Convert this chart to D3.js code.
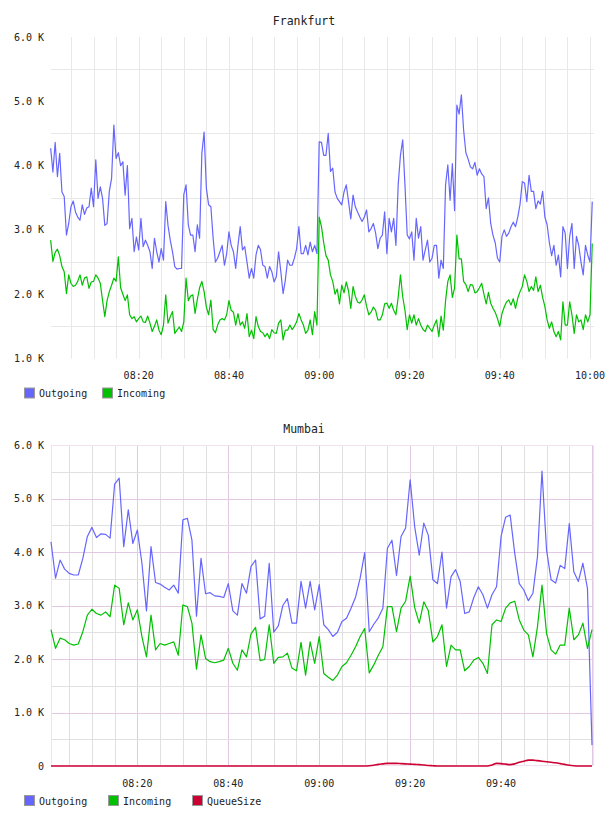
<!DOCTYPE html>
<html lang="en">
<head>
  <meta charset="utf-8">
  <title>Frankfurt / Mumbai traffic</title>
  <script src="https://cdn.jsdelivr.net/npm/d3@7"></script>
  <style>
    body { margin: 0; background: #fff; }
    text { font-family: "DejaVu Sans Mono", monospace; fill: #222; }
  </style>
</head>
<body>
  <script>
    // ---- data (values in K) ----
    // Frankfurt: one sample every 30 s starting 08:00:30
    let frankfurtStart = [8, 0, 30];
    let frankfurtStepSec = 30;
    let frankfurtOutgoing = [
      4.27, 3.90, 4.36, 3.83, 4.19, 3.59, 3.52, 2.92, 3.10, 3.36,
      3.45, 3.28, 3.20, 3.15, 3.39, 3.24, 3.34, 3.36, 3.65, 3.36,
      4.09, 3.49, 3.67, 3.49, 3.07, 3.10, 3.60, 3.80, 4.63, 4.11,
      4.20, 4.00, 4.06, 3.54, 4.00, 3.02, 3.18, 2.66, 2.89, 2.69,
      3.18, 2.74, 2.84, 2.76, 2.66, 2.40, 2.87, 2.66, 2.50, 2.71,
      2.53, 3.44, 3.07, 2.84, 2.66, 2.43, 2.39, 2.40, 2.40, 3.55,
      3.70, 3.08, 2.92, 2.92, 2.66, 3.08, 2.87, 4.19, 4.52, 3.65,
      3.39, 3.36, 2.87, 2.50, 2.56, 2.66, 2.76, 2.45, 2.63, 2.97,
      2.76, 2.66, 2.40, 2.76, 3.05, 2.69, 2.74, 2.50, 2.25, 2.40,
      2.25, 2.61, 2.76, 2.69, 2.45, 2.43, 2.25, 2.43, 2.35, 2.19,
      2.27, 2.66, 2.35, 2.01, 2.22, 2.53, 2.45, 2.45, 2.56, 2.71,
      3.05, 2.63, 2.63, 2.76, 2.61, 2.81, 2.66, 2.76, 2.63, 4.37,
      4.36, 4.16, 4.16, 4.50, 3.91, 3.96, 3.59, 3.49, 3.44, 3.39,
      3.59, 3.70, 3.44, 3.17, 3.54, 3.36, 3.28, 3.20, 3.13, 3.20,
      3.31, 2.97, 3.02, 3.10, 2.95, 2.71, 2.87, 2.92, 3.28, 2.63,
      3.18, 2.97, 3.18, 2.76, 3.70, 4.16, 4.40, 3.70, 2.92, 2.86,
      2.97, 2.53, 3.18, 2.87, 3.05, 2.53, 2.69, 2.84, 2.50, 2.56,
      2.76, 2.76, 2.25, 2.53, 2.40, 3.70, 4.01, 3.46, 4.03, 3.30,
      4.94, 4.80, 5.10, 4.55, 4.20, 4.10, 3.98, 3.95, 4.05, 3.85,
      3.95, 3.87, 3.83, 3.33, 3.50, 3.10, 2.92, 2.80, 2.56, 2.50,
      2.90, 3.00, 2.90, 2.95, 3.05, 3.12, 3.05, 3.20, 3.40, 3.75,
      3.73, 3.44, 3.85, 3.60, 3.60, 3.33, 3.45, 3.40, 3.60, 3.20,
      3.08, 2.80, 2.60, 2.76, 2.45, 2.61, 2.27, 3.05, 2.95, 2.40,
      2.90, 3.10, 2.40, 2.90, 2.76, 2.50, 2.30, 2.76, 2.61, 2.50,
      3.44
    ];
    let frankfurtIncoming = [
      2.84, 2.51, 2.65, 2.70, 2.60, 2.43, 2.35, 2.01, 2.30, 2.17,
      2.12, 2.14, 2.20, 2.30, 2.14, 2.25, 2.27, 2.09, 2.19, 2.20,
      2.30, 2.25, 2.17, 1.90, 1.65, 1.90, 2.04, 2.14, 2.25, 2.20,
      2.58, 2.10, 2.00, 1.90, 1.99, 1.68, 1.62, 1.65, 1.57, 1.62,
      1.66, 1.57, 1.56, 1.66, 1.55, 1.42, 1.50, 1.60, 1.44, 1.37,
      1.52, 1.99, 1.55, 1.65, 1.73, 1.39, 1.44, 1.49, 1.42, 1.57,
      2.25, 1.90, 1.97, 1.99, 1.70, 1.92, 2.10, 2.20, 2.04, 1.80,
      1.68, 1.91, 1.45, 1.40, 1.52, 1.60, 1.62, 1.60, 1.68, 1.90,
      1.75, 1.72, 1.52, 1.70, 1.52, 1.57, 1.47, 1.70, 1.34, 1.44,
      1.31, 1.65, 1.50, 1.42, 1.40, 1.34, 1.39, 1.31, 1.45, 1.40,
      1.39, 1.55, 1.60, 1.29, 1.44, 1.44, 1.52, 1.45, 1.50, 1.57,
      1.70, 1.60, 1.52, 1.39, 1.44, 1.60, 1.37, 1.73, 1.52, 3.20,
      3.05, 2.80, 2.60, 2.53, 2.30, 2.20, 2.00, 2.08, 1.85, 2.14,
      2.02, 2.19, 2.05, 1.78, 2.12, 1.97, 1.88, 1.86, 1.91, 1.99,
      1.81, 1.68, 1.72, 1.80, 1.75, 1.60, 1.60, 1.68, 1.85, 1.86,
      1.78, 1.86, 1.75, 1.68, 1.95, 2.30, 1.96, 1.75, 1.45, 1.68,
      1.55, 1.68, 1.52, 1.62, 1.52, 1.45, 1.42, 1.52, 1.47, 1.42,
      1.52, 1.60, 1.34, 1.66, 1.44, 1.90, 2.20, 2.30, 1.95, 2.10,
      2.92, 2.55, 2.55, 2.20, 2.15, 2.04, 2.15, 2.14, 2.02, 2.04,
      2.10, 2.17, 2.00, 1.85, 2.03, 1.86, 1.78, 1.72, 1.62, 1.50,
      1.70, 1.80, 1.88, 1.91, 1.83, 1.93, 1.78, 1.94, 2.04, 2.12,
      2.30, 2.20, 2.04, 2.12, 2.06, 2.27, 2.04, 2.14, 1.95, 1.81,
      1.60, 1.47, 1.57, 1.42, 1.34, 1.42, 1.29, 1.88, 1.52, 1.52,
      1.88, 1.68, 1.39, 1.68, 1.57, 1.60, 1.45, 1.68, 1.57, 1.68,
      2.79
    ];

    // Mumbai: one sample per minute starting 08:01
    let mumbaiStart = [8, 1, 0];
    let mumbaiStepSec = 60;
    let mumbaiOutgoing = [
      4.19, 3.51, 3.85, 3.68, 3.60, 3.57, 3.57, 3.88, 4.29, 4.46,
      4.27, 4.34, 4.33, 4.26, 5.27, 5.38, 4.10, 4.79, 4.16, 4.41,
      3.79, 2.90, 4.10, 3.43, 3.40, 3.34, 3.29, 3.38, 3.23, 4.60,
      4.63, 4.22, 2.80, 3.88, 3.22, 3.24, 3.18, 3.17, 3.15, 3.41,
      2.90, 2.82, 3.41, 3.23, 3.73, 3.85, 2.75, 2.80, 3.79, 2.50,
      2.62, 3.00, 3.13, 2.67, 2.67, 3.45, 2.95, 3.45, 2.92, 3.39,
      2.64, 2.55, 2.42, 2.50, 2.70, 2.76, 2.95, 3.16, 3.51, 3.99,
      2.51, 2.65, 2.77, 2.95, 4.07, 4.22, 3.56, 4.29, 4.45, 5.35,
      4.47, 3.94, 4.54, 4.31, 3.48, 3.41, 4.00, 2.95, 3.54, 3.67,
      3.45, 2.85, 2.88, 3.15, 3.35, 3.20, 2.95, 3.20, 3.35, 4.29,
      4.65, 4.69, 3.98, 3.41, 3.29, 3.09, 3.23, 3.91, 5.51, 4.04,
      3.48, 3.42, 3.75, 3.69, 4.53, 3.63, 3.45, 3.79, 3.32, 0.39
    ];
    let mumbaiIncoming = [
      2.55, 2.20, 2.39, 2.36, 2.29, 2.26, 2.28, 2.51, 2.82, 2.93,
      2.85, 2.82, 2.88, 2.79, 3.38, 3.32, 2.64, 3.05, 2.73, 2.92,
      2.42, 2.04, 2.82, 2.17, 2.29, 2.26, 2.29, 2.32, 2.07, 3.01,
      2.98, 2.67, 1.81, 2.45, 2.01, 1.95, 1.93, 1.95, 1.98, 2.20,
      1.92, 1.79, 2.17, 2.04, 2.47, 2.59, 1.97, 1.99, 2.64, 1.92,
      2.03, 2.04, 2.11, 1.83, 1.78, 2.31, 1.70, 2.32, 1.92, 2.42,
      1.73, 1.66, 1.60, 1.70, 1.86, 1.93, 2.07, 2.23, 2.42, 2.57,
      1.74, 1.89, 2.07, 2.23, 2.98, 2.98, 2.51, 2.95, 3.08, 3.55,
      2.96, 2.67, 3.07, 2.90, 2.32, 2.42, 2.64, 1.86, 2.26, 2.17,
      2.17, 1.78, 1.86, 1.98, 2.03, 1.92, 1.73, 2.64, 2.73, 2.70,
      2.95, 3.05, 3.08, 2.73, 2.54, 2.45, 2.04, 2.60, 3.38, 2.48,
      2.17, 2.09, 2.26, 2.26, 2.95, 2.36, 2.45, 2.67, 2.20, 2.55
    ];
    let mumbaiQueueSize = [
      0, 0, 0, 0, 0, 0, 0, 0, 0, 0,
      0, 0, 0, 0, 0, 0, 0, 0, 0, 0,
      0, 0, 0, 0, 0, 0, 0, 0, 0, 0,
      0, 0, 0, 0, 0, 0, 0, 0, 0, 0,
      0, 0, 0, 0, 0, 0, 0, 0, 0, 0,
      0, 0, 0, 0, 0, 0, 0, 0, 0, 0,
      0, 0, 0, 0, 0, 0, 0, 0, 0, 0,
      0.005, 0.015, 0.03, 0.04, 0.05, 0.05, 0.05, 0.045, 0.04, 0.035,
      0.03, 0.025, 0.02, 0.01, 0.005, 0, 0, 0, 0, 0,
      0, 0, 0, 0, 0, 0, 0, 0.02, 0.05, 0.045,
      0.035, 0.025, 0.04, 0.07, 0.09, 0.11, 0.11, 0.10, 0.09, 0.08,
      0.07, 0.06, 0.045, 0.03, 0.015, 0.005, 0, 0, 0, 0
    ];

    let xTickLabelsTop = ["08:20", "08:40", "09:00", "09:20", "09:40", "10:00"];
    let xTickLabelsBottom = ["08:20", "08:40", "09:00", "09:20", "09:40"];
    let colors = { Outgoing: "#6666ff", Incoming: "#00c000", QueueSize: "#cc0033" };

    let width = 608, height = 816;
    let day = new Date(2020, 0, 1);
    let at = (h, m, s) => new Date(2020, 0, 1, h, m, s || 0);
    let parseHM = d3.timeParse("%H:%M");
    let fmtHM = d3.timeFormat("%H:%M");
    let hm = str => { let p = parseHM(str); return at(p.getHours(), p.getMinutes()); };

    function series(start, stepSec, values) {
      let t0 = at(start[0], start[1], start[2]);
      return values.map((v, i) => ({ t: new Date(t0.getTime() + i * stepSec * 1000), v: v }));
    }

    let svg = d3.select("body").append("svg")
      .attr("width", width)
      .attr("height", height);
    svg.append("rect").attr("width", width).attr("height", height).attr("fill", "#fff");

    function kFormat(v) { return v === 0 ? "0" : d3.format(".1f")(v) + " K"; }

    function drawPanel(opt) {
      let g = svg.append("g");
      let x = d3.scaleTime().domain([at(8, 0), at(10, 0)]).range(opt.xRange);
      let y = d3.scaleLinear().domain(opt.yDomain).range([opt.bottom, opt.top]);

      // title
      g.append("text").attr("x", 304).attr("y", opt.titleY)
        .attr("text-anchor", "middle").style("font-size", "11.5px").text(opt.title);

      // gridlines
      let minutes = d3.timeMinute.every(5).range(at(8, 5), at(10, 0, 30));
      let vTicks = minutes.filter(d => x(d) > opt.left + 1 && x(d) < opt.right - 1);
      let hTicks = opt.hGrid;
      let grid = g.append("g");
      grid.selectAll(".vg").data(vTicks).join("line")
        .attr("x1", d => Math.round(x(d)) + 0.5).attr("x2", d => Math.round(x(d)) + 0.5)
        .attr("y1", opt.top).attr("y2", opt.bottom)
        .attr("stroke", d => opt.major && d.getMinutes() % 20 === 0 ? opt.majorColor : opt.gridColor);
      grid.selectAll(".hg").data(hTicks).join("line")
        .attr("x1", opt.left).attr("x2", opt.right)
        .attr("y1", d => Math.round(y(d)) + 0.5).attr("y2", d => Math.round(y(d)) + 0.5)
        .attr("stroke", d => opt.major && d % 1 === 0 ? opt.majorColor : opt.gridColor);
      if (opt.border) {
        g.append("rect").attr("x", opt.left + 0.5).attr("y", opt.top + 0.5)
          .attr("width", opt.right - opt.left - 1).attr("height", opt.bottom - opt.top - 1)
          .attr("fill", "none").attr("stroke", opt.border);
      }

      // y labels
      g.selectAll(".yl").data(opt.yLabels).join("text")
        .attr("x", 44).attr("y", d => y(d)).attr("dy", "0.35em")
        .attr("text-anchor", "end").style("font-size", "10px")
        .text(kFormat);

      // x labels
      g.selectAll(".xl").data(opt.xLabels).join("text")
        .attr("x", d => x(hm(d))).attr("y", opt.xLabelY)
        .attr("text-anchor", "middle").style("font-size", "10px")
        .text(d => fmtHM(hm(d)));

      // lines
      let line = d3.line().x(d => x(d.t)).y(d => y(d.v));
      opt.lines.forEach(s => {
        g.append("path").datum(s.data)
          .attr("fill", "none")
          .attr("stroke", colors[s.name])
          .attr("stroke-width", s.width || 1.2)
          .attr("stroke-linejoin", "round")
          .attr("d", s.curve ? line.curve(s.curve)(s.data) : line.curve(d3.curveLinear)(s.data));
      });

      // legend
      let lg = g.append("g");
      opt.legend.forEach(item => {
        lg.append("rect").attr("x", item.x + 0.5).attr("y", opt.legendY + 0.5)
          .attr("width", 10).attr("height", 10)
          .attr("fill", colors[item.name]).attr("stroke", "#999");
        lg.append("text").attr("x", item.x + 15).attr("y", opt.legendY + 9.5)
          .style("font-size", "10px").text(item.name);
      });
    }

    drawPanel({
      title: "Frankfurt", titleY: 25,
      left: 51, right: 594, top: 37, bottom: 358.5,
      xRange: [48.4, 590], yDomain: [1, 6],
      hGrid: [1.5, 2.5, 3.5, 4.5, 5.5],
      yLabels: [1, 2, 3, 4, 5, 6],
      xLabels: xTickLabelsTop, xLabelY: 379,
      gridColor: "#e8e8e8", major: false,
      lines: [
        { name: "Outgoing", data: series(frankfurtStart, frankfurtStepSec, frankfurtOutgoing) },
        { name: "Incoming", data: series(frankfurtStart, frankfurtStepSec, frankfurtIncoming) }
      ],
      legend: [{ name: "Outgoing", x: 24 }, { name: "Incoming", x: 102 }],
      legendY: 387.5
    });

    drawPanel({
      title: "Mumbai", titleY: 433,
      left: 51, right: 594, top: 445, bottom: 766,
      xRange: [46.45, 592], yDomain: [0, 6],
      hGrid: [0.5, 1, 1.5, 2, 2.5, 3, 3.5, 4, 4.5, 5, 5.5],
      yLabels: [0, 1, 2, 3, 4, 5, 6],
      xLabels: xTickLabelsBottom, xLabelY: 787,
      gridColor: "#e0e0e0", major: true, majorColor: "#e2c8e2", border: "#f0e0f0",
      lines: [
        { name: "Outgoing", data: series(mumbaiStart, mumbaiStepSec, mumbaiOutgoing) },
        { name: "Incoming", data: series(mumbaiStart, mumbaiStepSec, mumbaiIncoming) },
        { name: "QueueSize", data: series(mumbaiStart, mumbaiStepSec, mumbaiQueueSize), width: 1.6, curve: d3.curveMonotoneX }
      ],
      legend: [{ name: "Outgoing", x: 24 }, { name: "Incoming", x: 108 }, { name: "QueueSize", x: 192 }],
      legendY: 795
    });
  </script>
</body>
</html>
